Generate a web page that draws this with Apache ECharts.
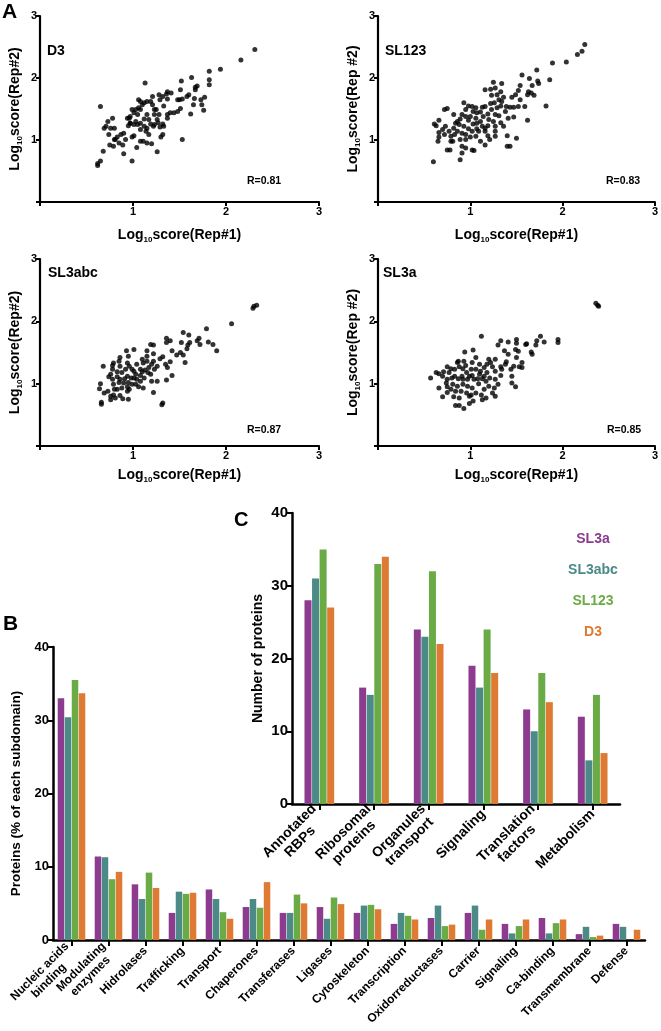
<!DOCTYPE html>
<html><head><meta charset="utf-8">
<script src="https://cdn.jsdelivr.net/npm/echarts@6/dist/echarts.min.js"></script>
<style>html,body{margin:0;padding:0;background:#fff}#c{width:661px;height:1031px}</style>
</head><body><div id="c"></div><script>
// ---------- data ----------
const d3Pts = [[2.31,2.46],[2.16,2.29],[1.94,2.14],[1.82,2.11],[1.82,1.97],[1.82,1.89],[1.63,2.01],[1.67,1.85],[1.67,1.81],[1.66,1.67],[1.65,1.57],[1.58,1.70],[1.60,1.73],[1.73,1.65],[1.77,1.69],[1.74,1.57],[1.76,1.48],[1.62,1.42],[1.52,1.95],[1.48,1.65],[1.50,1.65],[1.51,1.51],[1.48,1.46],[1.44,1.44],[1.40,1.44],[1.37,1.78],[1.36,1.74],[1.32,1.70],[1.37,1.66],[1.29,1.65],[1.33,1.55],[1.25,1.49],[1.28,1.41],[1.37,1.35],[1.26,1.33],[1.32,1.26],[1.29,1.21],[1.33,1.22],[1.30,1.05],[1.32,1.09],[1.53,1.01],[1.26,0.81],[1.13,1.92],[1.15,1.62],[1.19,1.62],[1.21,1.57],[1.12,1.60],[1.10,1.57],[1.06,1.52],[1.08,1.49],[0.99,1.49],[0.97,1.38],[0.96,1.35],[0.97,1.27],[0.95,1.23],[1.01,1.25],[1.03,1.30],[1.05,1.25],[1.08,1.27],[1.12,1.34],[1.15,1.41],[1.17,1.33],[1.19,1.26],[1.23,1.41],[1.22,1.22],[1.15,1.19],[1.17,1.09],[1.05,1.41],[1.01,1.07],[1.08,0.98],[1.11,0.98],[1.15,0.95],[1.20,0.94],[1.04,0.88],[0.99,0.66],[0.90,0.78],[0.99,1.05],[0.90,1.11],[0.87,1.09],[0.83,1.05],[0.81,1.01],[0.85,0.95],[0.79,0.90],[0.75,0.92],[0.80,1.01],[0.74,1.09],[0.76,1.19],[0.71,1.22],[0.73,1.30],[0.78,1.35],[0.80,1.19],[0.69,1.19],[0.65,1.54],[0.68,0.82],[0.65,0.66],[0.62,0.62],[0.62,0.59],[0.94,1.35],[1.08,1.62],[1.06,1.65],[1.23,1.49],[1.12,1.22],[1.08,1.17],[1.37,1.41],[1.41,1.76],[1.28,1.73],[1.21,1.70],[0.97,1.27],[0.92,1.01],[0.89,0.92],[1.27,1.28],[1.23,1.25],[1.03,1.49],[1.01,1.44],[1.14,1.14],[1.51,1.81],[1.69,1.87],[1.53,1.66]];
const sl123Pts = [[2.24,2.54],[2.21,2.43],[2.16,2.38],[2.04,2.26],[1.89,2.24],[1.72,2.13],[1.86,1.97],[1.73,1.95],[1.74,1.91],[1.64,1.99],[1.56,2.05],[1.67,1.88],[1.63,1.78],[1.62,1.73],[1.69,1.72],[1.54,1.88],[1.52,1.80],[1.49,1.73],[1.45,1.69],[1.54,1.65],[1.59,1.54],[1.52,1.54],[1.43,1.53],[1.38,1.46],[1.82,1.55],[1.62,1.32],[1.47,1.37],[1.41,1.35],[1.50,1.03],[1.40,1.07],[1.43,0.90],[1.40,0.90],[1.25,1.93],[1.34,1.91],[1.16,1.81],[1.27,1.84],[1.33,1.78],[1.29,1.73],[1.23,1.72],[1.36,1.69],[1.31,1.65],[1.26,1.60],[1.34,1.62],[1.22,1.59],[1.16,1.54],[1.13,1.53],[1.33,1.55],[1.29,1.52],[1.23,1.49],[1.19,1.42],[1.14,1.38],[1.27,1.41],[1.31,1.39],[1.25,1.30],[1.33,1.28],[1.19,1.23],[1.16,1.19],[1.27,1.22],[1.27,1.14],[1.19,1.07],[1.27,1.06],[1.21,1.01],[1.16,0.92],[1.11,0.98],[1.06,1.52],[1.02,1.54],[0.98,1.55],[0.93,1.60],[0.95,1.49],[1.03,1.46],[1.07,1.44],[1.06,1.35],[1.00,1.38],[0.95,1.38],[0.91,1.41],[0.89,1.34],[0.98,1.32],[1.03,1.26],[1.07,1.27],[1.11,1.30],[1.13,1.22],[1.07,1.18],[1.02,1.14],[0.98,1.18],[0.93,1.22],[0.88,1.25],[0.84,1.27],[0.82,1.19],[0.86,1.14],[0.91,1.11],[0.95,1.09],[1.06,1.06],[1.00,1.05],[0.95,1.01],[0.89,1.01],[0.83,1.09],[0.79,1.06],[0.77,1.14],[0.73,1.22],[0.70,1.17],[0.66,1.12],[0.66,1.05],[0.65,0.98],[0.72,1.09],[0.79,0.98],[0.81,0.98],[0.75,0.84],[0.78,0.84],[0.91,0.90],[0.95,0.87],[1.02,0.84],[1.04,0.83],[0.91,0.79],[0.89,0.68],[0.60,0.65],[0.61,1.26],[0.63,1.23],[0.66,1.32],[0.72,1.49],[0.75,1.51],[0.82,1.41],[0.86,1.30],[1.09,1.14],[1.16,1.14],[1.20,1.33],[1.36,1.22],[1.39,1.54],[1.22,1.82],[1.47,1.53],[1.66,1.76],[1.11,1.45]];
const sl3abcPts = [[2.33,2.26],[2.30,2.24],[2.29,2.21],[2.06,1.96],[1.90,1.53],[1.86,1.63],[1.81,1.67],[1.79,1.88],[1.71,1.73],[1.72,1.63],[1.69,1.69],[1.61,1.66],[1.59,1.62],[1.58,1.56],[1.54,1.82],[1.60,1.78],[1.52,1.66],[1.51,1.50],[1.54,1.46],[1.56,1.34],[1.36,1.73],[1.40,1.69],[1.36,1.66],[1.42,1.53],[1.40,1.35],[1.42,1.13],[1.36,1.06],[1.35,1.31],[1.37,1.26],[1.29,1.40],[1.32,1.43],[1.22,1.62],[1.19,1.63],[1.15,1.53],[1.22,1.36],[1.20,1.31],[1.26,1.28],[1.23,1.23],[1.26,1.04],[1.22,0.86],[1.31,0.66],[1.32,0.69],[1.15,1.36],[1.11,1.33],[1.17,1.26],[1.13,1.22],[1.10,1.19],[1.16,1.18],[1.08,1.13],[1.12,1.09],[1.04,1.07],[1.08,1.04],[1.03,0.99],[1.11,0.93],[1.06,0.95],[1.01,1.55],[0.93,1.53],[0.95,1.44],[0.86,1.42],[0.85,1.36],[0.94,1.33],[0.96,1.28],[0.99,1.23],[1.01,1.20],[0.92,1.23],[0.88,1.18],[0.94,1.12],[0.98,1.09],[0.91,1.08],[0.86,1.07],[0.83,1.11],[0.85,1.02],[0.90,1.01],[0.95,1.02],[0.99,0.99],[0.94,0.95],[0.88,0.93],[0.83,0.91],[0.94,0.88],[0.96,0.91],[0.79,0.99],[0.78,1.07],[0.76,1.15],[0.78,1.23],[0.78,1.29],[0.79,1.33],[0.74,1.11],[0.68,1.28],[0.65,1.00],[0.64,0.92],[0.69,0.85],[0.73,0.88],[0.76,0.80],[0.79,0.82],[0.81,0.77],[0.86,0.81],[0.89,0.76],[0.95,0.75],[0.66,0.70],[0.66,0.67],[0.76,0.74],[1.04,1.31],[1.08,1.23],[1.19,1.15],[1.20,1.04],[1.03,1.15],[1.47,1.46],[1.22,1.48],[1.15,1.44],[0.86,1.28],[1.01,1.09],[0.83,1.19],[0.80,0.91],[1.10,1.39]];
const sl3aPts = [[2.38,2.26],[2.39,2.24],[2.36,2.29],[1.95,1.71],[1.95,1.66],[1.80,1.67],[1.76,1.76],[1.72,1.69],[1.71,1.62],[1.66,1.51],[1.67,1.47],[1.60,1.63],[1.61,1.64],[1.50,1.71],[1.50,1.65],[1.49,1.55],[1.52,1.52],[1.41,1.67],[1.33,1.69],[1.30,1.62],[1.37,1.53],[1.41,1.47],[1.50,1.42],[1.56,1.34],[1.53,1.27],[1.47,1.28],[1.44,1.23],[1.39,1.35],[1.38,1.31],[1.33,1.27],[1.34,1.23],[1.45,1.12],[1.45,1.01],[1.49,0.95],[1.27,1.39],[1.20,1.39],[1.22,1.34],[1.18,1.31],[1.24,1.27],[1.27,1.20],[1.33,1.13],[1.27,1.07],[1.30,0.99],[1.26,0.93],[1.27,0.80],[1.12,1.76],[1.03,1.54],[0.94,1.51],[1.15,1.26],[1.11,1.20],[1.06,1.23],[1.10,1.15],[1.15,1.12],[1.18,1.18],[1.21,1.09],[1.17,1.04],[1.20,0.96],[1.15,0.91],[1.12,0.82],[1.17,0.77],[1.13,0.74],[1.09,1.00],[1.04,1.07],[0.99,1.12],[1.01,1.23],[0.95,1.29],[0.96,1.18],[0.92,1.24],[0.88,1.27],[0.86,1.34],[0.87,1.36],[0.91,1.12],[0.92,1.07],[0.87,1.08],[0.83,1.12],[0.79,1.24],[0.75,1.27],[0.77,1.18],[0.80,1.09],[0.75,1.07],[0.70,1.12],[0.66,1.16],[0.63,1.18],[0.57,1.09],[0.66,0.93],[0.74,1.01],[0.75,0.95],[0.81,0.99],[0.86,0.96],[0.92,0.99],[0.97,0.96],[1.02,0.93],[1.06,0.85],[1.01,0.82],[0.96,0.85],[0.90,0.88],[0.84,0.88],[0.79,0.91],[0.75,0.86],[0.70,0.79],[0.82,0.79],[0.88,0.77],[0.84,0.65],[0.88,0.65],[0.93,0.60],[0.99,0.68],[1.03,0.72],[0.99,0.80],[1.08,1.08],[1.13,1.08],[1.10,1.31],[1.02,1.34],[1.06,1.42],[0.93,1.36],[0.83,1.23],[0.71,1.19],[1.56,1.26],[1.24,0.85],[0.97,1.07],[1.02,1.13]];

const scatterTicks = [0, 1, 2, 3];
const seriesNames = ['SL3a', 'SL3abc', 'SL123', 'D3'];
const colors = ['#8c3b8e', '#4b8a87', '#6bab46', '#de7a33'];

const bCategories = ['Nucleic acids\nbinding','Modulating\nenzymes','Hidrolases','Trafficking','Transport','Chaperones','Transferases','Ligases','Cytoskeleton','Transcription','Oxidorreductases','Carrier','Signaling','Ca-binding','Transmembrane','Defense'];
const bSL3a   = [33.0, 11.4, 7.6, 3.7, 6.9, 4.5, 3.7, 4.5, 3.7, 2.2, 3.0, 3.7, 2.2, 3.0, 0.8, 2.2];
const bSL3abc = [30.4, 11.3, 5.6, 6.6, 5.6, 5.6, 3.7, 2.9, 4.7, 3.7, 4.7, 4.7, 0.9, 0.9, 1.8, 1.8];
const bSL123  = [35.5, 8.3, 9.2, 6.3, 3.8, 4.4, 6.2, 5.8, 4.8, 3.3, 1.9, 1.4, 1.9, 2.3, 0.4, 0];
const bD3     = [33.7, 9.3, 7.1, 6.45, 2.9, 7.9, 5.0, 4.9, 4.2, 2.8, 2.1, 2.8, 2.8, 2.8, 0.6, 1.4];

const cCategories = ['Annotated\nRBPs','Ribosomal\nproteins','Organules\ntransport','Signaling','Translation\nfactors','Metabolism'];
const cSL3a   = [28, 16, 24, 19, 13, 12];
const cSL3abc = [31, 15, 23, 16, 10, 6];
const cSL123  = [35, 33, 32, 24, 18, 15];
const cD3     = [27, 34, 22, 18, 14, 7];

// ---------- layout ----------
const FONT = "'Liberation Sans', Arial, sans-serif";
const chart = echarts.init(document.getElementById('c'), null, {renderer: 'canvas'});

const nameRich = {
  n: {fontSize: 14, fontWeight: 'bold', fontFamily: FONT, color: '#000'},
  s: {fontSize: 8, fontWeight: 'bold', fontFamily: FONT, color: '#000', padding: [9, 0, 0, 0]}
};
function logName(t) { return '{n|Log}{s|10}{n|' + t + '}'; }

const scatterGrids = [
  {left: 40, top: 16, width: 279, height: 186},
  {left: 378, top: 16, width: 279, height: 186},
  {left: 40, top: 259, width: 279, height: 187},
  {left: 378, top: 259, width: 279, height: 187}
];
const yNames = ['score(Rep#2)', 'score(Rep #2)', 'score(Rep#2)', 'score(Rep #2)'];
const xGaps = [25, 25, 21, 21];
const scatterData = [d3Pts, sl123Pts, sl3abcPts, sl3aPts];

const axLine = {show: true, onZero: false, lineStyle: {color: '#000', width: 2.2}};
const axTick = {show: true, length: 4, lineStyle: {color: '#000', width: 2}};

const grids = scatterGrids.concat([
  {left: 53, top: 647, width: 592, height: 293},
  {left: 292, top: 513, width: 328, height: 291}
]);

const xAxes = [], yAxes = [], series = [];
scatterGrids.forEach((g, i) => {
  xAxes.push({
    gridIndex: i, type: 'value', min: scatterTicks[0], max: scatterTicks[3], interval: 1,
    axisLine: axLine, axisTick: axTick, splitLine: {show: false},
    axisLabel: {formatter: v => v === 0 ? '' : String(v), fontWeight: 'bold', fontSize: 11, fontFamily: FONT, color: '#000', margin: 4},
    name: logName('score(Rep#1)'), nameLocation: 'middle', nameGap: xGaps[i],
    nameTextStyle: {rich: nameRich}
  });
  yAxes.push({
    gridIndex: i, type: 'value', min: scatterTicks[0], max: scatterTicks[3], interval: 1,
    axisLine: axLine, axisTick: axTick, splitLine: {show: false},
    axisLabel: {formatter: v => v === 0 ? '' : String(v), fontWeight: 'bold', fontSize: 11, fontFamily: FONT, color: '#000', margin: 3},
    name: logName(yNames[i]), nameLocation: 'middle', nameGap: 16,
    nameTextStyle: {rich: nameRich}
  });
  series.push({
    type: 'scatter', xAxisIndex: i, yAxisIndex: i, data: scatterData[i],
    symbolSize: 5, itemStyle: {color: '#000'}, silent: true
  });
});

function richLabel(v) {
  return v.split('\n').map(s => '{c|' + s + '}').join('\n');
}

// Panel B
xAxes.push({
  gridIndex: 4, type: 'category', data: bCategories,
  axisLine: {show: true, lineStyle: {color: '#000', width: 2.5}},
  axisTick: {show: true, alignWithLabel: true, length: 6, lineStyle: {color: '#000', width: 2}},
  axisLabel: {interval: 0, rotate: 45, margin: 9, formatter: richLabel,
    rich: {c: {align: 'center', fontSize: 12, fontWeight: 'bold', fontFamily: FONT, color: '#000', lineHeight: 13}}}
});
yAxes.push({
  gridIndex: 4, type: 'value', min: 0, max: 40, interval: 10,
  axisLine: {show: true, lineStyle: {color: '#000', width: 2.5}},
  axisTick: {show: true, length: 6, lineStyle: {color: '#000', width: 2}},
  splitLine: {show: false},
  axisLabel: {fontWeight: 'bold', fontSize: 13, fontFamily: FONT, color: '#000', margin: 4},
  name: 'Proteins (% of each subdomain)', nameLocation: 'middle', nameGap: 30,
  nameTextStyle: {fontWeight: 'bold', fontSize: 13.5, fontFamily: FONT, color: '#000'}
});
// Panel C
xAxes.push({
  gridIndex: 5, type: 'category', data: cCategories,
  axisLine: {show: true, lineStyle: {color: '#000', width: 2.5}},
  axisTick: {show: true, alignWithLabel: true, length: 6, lineStyle: {color: '#000', width: 2}},
  axisLabel: {interval: 0, rotate: 45, margin: 8, formatter: richLabel,
    rich: {c: {align: 'center', fontSize: 14, fontWeight: 'bold', fontFamily: FONT, color: '#000', lineHeight: 15}}}
});
yAxes.push({
  gridIndex: 5, type: 'value', min: 0, max: 40, interval: 10,
  axisLine: {show: true, lineStyle: {color: '#000', width: 2.5}},
  axisTick: {show: true, length: 6, lineStyle: {color: '#000', width: 2}},
  splitLine: {show: false},
  axisLabel: {fontWeight: 'bold', fontSize: 15, fontFamily: FONT, color: '#000', margin: 4},
  name: 'Number of proteins', nameLocation: 'middle', nameGap: 27,
  nameTextStyle: {fontWeight: 'bold', fontSize: 14, fontFamily: FONT, color: '#000'}
});

const bData = [bSL3a, bSL3abc, bSL123, bD3];
const cData = [cSL3a, cSL3abc, cSL123, cD3];
seriesNames.forEach((n, k) => {
  series.push({name: n, type: 'bar', xAxisIndex: 4, yAxisIndex: 4, data: bData[k],
    barWidth: 6.5, barGap: '8%', itemStyle: {color: colors[k]}, silent: true});
});
seriesNames.forEach((n, k) => {
  series.push({name: n, type: 'bar', xAxisIndex: 5, yAxisIndex: 5, data: cData[k],
    barWidth: 7, barGap: '8%', itemStyle: {color: colors[k]}, silent: true});
});

function txt(x, y, t, size, align, vAlign) {
  return {type: 'text', x: x, y: y, silent: true,
    style: {text: t, fontSize: size, fontWeight: 'bold', fontFamily: FONT, fill: '#000',
      align: align || 'left', verticalAlign: vAlign || 'middle'}};
}

const option = {
  backgroundColor: '#fff',
  animation: false,
  textStyle: {fontFamily: FONT},
  grid: grids,
  xAxis: xAxes,
  yAxis: yAxes,
  series: series,
  legend: {
    orient: 'vertical', left: 541, top: 527, itemGap: 17, icon: 'none',
    itemWidth: 0, itemHeight: 14, selectedMode: false,
    formatter: name => '{c|' + name + '}',
    textStyle: {fontSize: 14, fontWeight: 'bold', fontFamily: FONT,
      rich: {c: {width: 84, align: 'center', fontSize: 14, fontWeight: 'bold', fontFamily: FONT}}},
    data: seriesNames.map((n, k) => ({name: n, textStyle: {color: colors[k]}}))
  },
  graphic: [
    txt(2, 12, 'A', 21), txt(3, 624, 'B', 21), txt(234, 520, 'C', 20),
    txt(47, 51, 'D3', 14), txt(385, 51, 'SL123', 14),
    txt(48, 273, 'SL3abc', 14), txt(383, 273, 'SL3a', 14),
    txt(264, 181, 'R=0.81', 10.5, 'center'), txt(623, 181, 'R=0.83', 10.5, 'center'),
    txt(264, 430, 'R=0.87', 10.5, 'center'), txt(624, 430, 'R=0.85', 10.5, 'center')
  ]
};
chart.setOption(option);
</script></body></html>
